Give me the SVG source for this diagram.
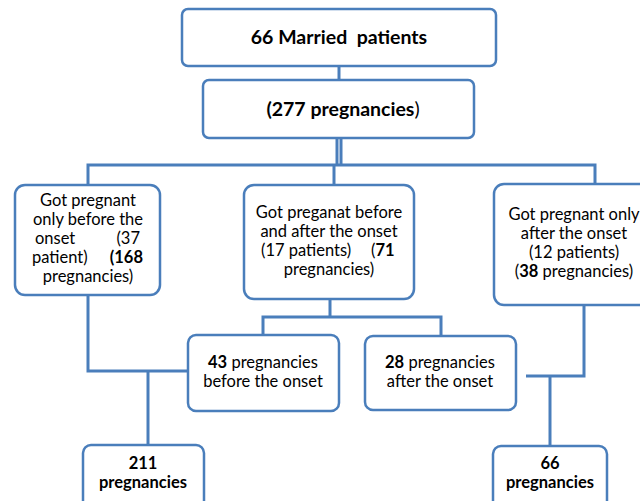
<svg xmlns="http://www.w3.org/2000/svg" width="640" height="501" viewBox="0 0 640 501">
<style>
.box{fill:#fff;stroke:#4a7ebb;stroke-width:2.5}
.ln{fill:none;stroke:#4a7ebb;stroke-width:3}
text{font-family:Lato,"Open Sans","Liberation Sans",sans-serif;font-size:16.5px;fill:#000}
.c{text-anchor:middle}
.e{text-anchor:end}
.b{font-weight:bold}
.big{font-size:19.5px;font-weight:bold;white-space:pre}
</style>
<rect width="640" height="501" fill="#fff"/>
<g id="connectors">
<line class="ln" x1="339" y1="66" x2="339" y2="80"/>
<path class="ln" d="M337 138 V165 M341 138 V165"/>
<polyline class="ln" points="88,185 88,165 595,165 595,184"/>
<line class="ln" x1="334" y1="165" x2="334" y2="185"/>
<path class="ln" d="M330 299 V317 M263 335 V317 H441 V335"/>
<polyline class="ln" points="88,295 88,371 193,371"/>
<line class="ln" x1="148" y1="371" x2="148" y2="445"/>
<polyline class="ln" points="584,305 584,376 526,376"/>
<line class="ln" x1="550" y1="376" x2="550" y2="446"/>
</g>
<g id="n1"><rect class="box" x="182" y="9" width="314" height="57" rx="6"/>
<text class="c big" x="339" y="44">66 Married  patients</text></g>
<g id="n2"><rect class="box" x="203" y="80" width="271" height="58" rx="6"/>
<text class="c big" x="343" y="116">(277 pregnancies<tspan font-weight="normal">)</tspan></text></g>
<g id="n3"><rect class="box" x="15" y="185" width="145" height="110" rx="10"/>
<text class="c" x="88" y="206">Got pregnant</text>
<text class="c" x="88" y="225">only before the</text>
<text x="35" y="244">onset</text><text class="e" x="140" y="244">(37</text>
<text x="32" y="263">patient)</text><text class="b e" x="143" y="263">(168</text>
<text class="c" x="88" y="282">pregnancies)</text></g>
<g id="n4"><rect class="box" x="244" y="185" width="170" height="114" rx="10"/>
<text class="c" x="329" y="218">Got preganat before</text>
<text class="c" x="329" y="237">and after the onset</text>
<text x="261" y="256">(17 patients)</text><text x="371" y="256">(<tspan class="b">71</tspan></text>
<text class="c" x="329" y="275">pregnancies)</text></g>
<g id="n5"><rect class="box" x="494" y="184" width="160" height="121" rx="10"/>
<text class="c" x="574" y="220">Got pregnant only</text>
<text class="c" x="574" y="239">after the onset</text>
<text class="c" x="574" y="258">(12 patients)</text>
<text class="c" x="574" y="277">(<tspan class="b">38</tspan> pregnancies)</text></g>
<g id="n6"><rect class="box" x="188" y="335" width="151" height="76" rx="8"/>
<text class="c" x="263" y="368"><tspan class="b">43</tspan> pregnancies</text>
<text class="c" x="263" y="387">before the onset</text></g>
<g id="n7"><rect class="box" x="365" y="336" width="151" height="74" rx="8"/>
<text class="c" x="440" y="368"><tspan class="b">28</tspan> pregnancies</text>
<text class="c" x="440" y="387">after the onset</text></g>
<g id="n8"><rect class="box" x="83" y="445" width="121" height="70" rx="8"/>
<text class="c b" x="143" y="469">211</text>
<text class="c b" x="143" y="488">pregnancies</text></g>
<g id="n9"><rect class="box" x="493" y="446" width="114" height="70" rx="8"/>
<text class="c b" x="550" y="469">66</text>
<text class="c b" x="550" y="488">pregnancies</text></g>
</svg>
